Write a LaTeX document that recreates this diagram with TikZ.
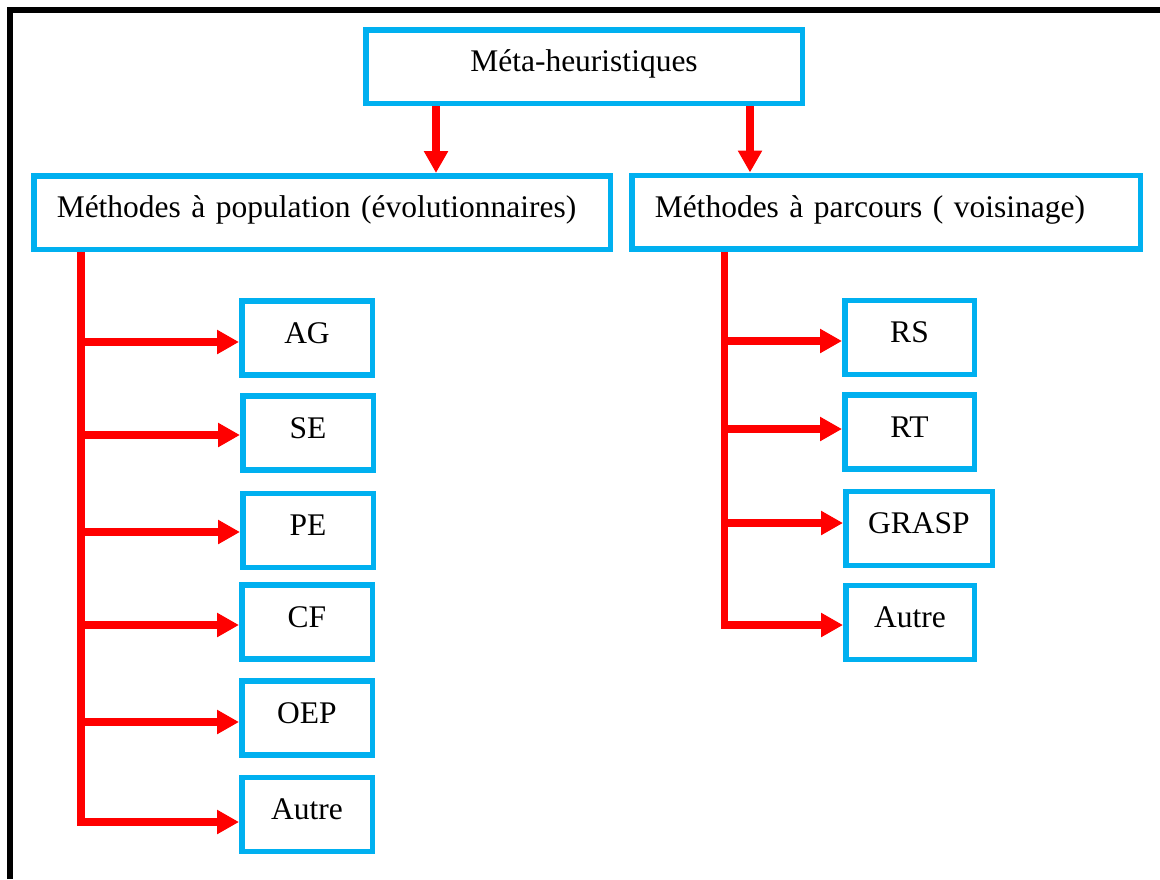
\documentclass[tikz,border=0pt]{standalone}
\usepackage{fontspec}
\setmainfont{Liberation Serif}
\usetikzlibrary{arrows.meta}
\definecolor{boxblue}{HTML}{00B0F0}
\definecolor{linkred}{HTML}{FF0000}
\begin{document}
\begin{tikzpicture}[x=1pt,y=-1pt,
  box/.style={draw=boxblue, line width=5.5pt, fill=white, inner sep=0pt,
    text height=20pt, text depth=10pt, font=\fontsize{31.5}{38}\selectfont},
  small/.style={box, minimum width=130.5pt, minimum height=74pt},
  wide/.style={box, align=left, inner xsep=23pt, minimum height=73.5pt},
  link/.style={draw=linkred, line width=7.5pt, line join=miter,
    -{Triangle[width=23pt,length=22pt]}}]
\useasboundingbox (0,0) rectangle (1160,879);
\fill[white] (0,0) rectangle (1160,879);
% page frame
\draw[line width=5.5pt, line join=miter] (10,879) -- (10,10) -- (1160,10);

% root and the two families
\node[box, minimum width=436.5pt, minimum height=73.5pt] (meta) at (584,66.5) {Méta-heuristiques};
\node[wide, text width=530.5pt] (pop) at (322,212.5) {Méthodes à population (évolutionnaires)};
\node[wide, text width=462.5pt] (parc) at (886,212) {Méthodes à parcours ( voisinage)};

% population-based methods
\node[small] (ag)  at (307,338)   {AG};
\node[small] (se)  at (308,433)   {SE};
\node[small] (pe)  at (308,530.5) {PE};
\node[small] (cf)  at (307,622)   {CF};
\node[small] (oep) at (307,718)   {OEP};
\node[small] (au1) at (307,814.5) {Autre};

% trajectory-based methods
\node[small, minimum width=129.5pt] (rs)    at (909.5,337.5) {RS};
\node[small, minimum width=129.5pt] (rt)    at (909.5,432)   {RT};
\node[small, minimum width=146.5pt] (grasp) at (919,528.5)   {GRASP};
\node[small, minimum width=128.5pt] (au2)   at (910,622.5)   {Autre};

% root to families
\draw[link] ([xshift=-148pt]meta.south) -- ([xshift=-148pt]meta.south |- pop.north);
\draw[link] ([xshift=166pt]meta.south) -- ([xshift=166pt]meta.south |- parc.north);

% left trunk and branches
\coordinate (l1) at (81,342);
\coordinate (l2) at (81,435);
\coordinate (l3) at (81,532);
\coordinate (l4) at (81,625);
\coordinate (l5) at (81,722);
\coordinate (l6) at (81,822);
\draw[link] (pop.south -| l6) -- (l6) -- (l6 -| au1.west);
\draw[link] (l1) -- (l1 -| ag.west);
\draw[link] (l2) -- (l2 -| se.west);
\draw[link] (l3) -- (l3 -| pe.west);
\draw[link] (l4) -- (l4 -| cf.west);
\draw[link] (l5) -- (l5 -| oep.west);

% right trunk and branches
\coordinate (r1) at (724.5,341);
\coordinate (r2) at (724.5,429);
\coordinate (r3) at (724.5,523);
\coordinate (r4) at (724.5,625);
\draw[link] (parc.south -| r4) -- (r4) -- (r4 -| au2.west);
\draw[link] (r1) -- (r1 -| rs.west);
\draw[link] (r2) -- (r2 -| rt.west);
\draw[link] (r3) -- (r3 -| grasp.west);
\end{tikzpicture}
\end{document}
